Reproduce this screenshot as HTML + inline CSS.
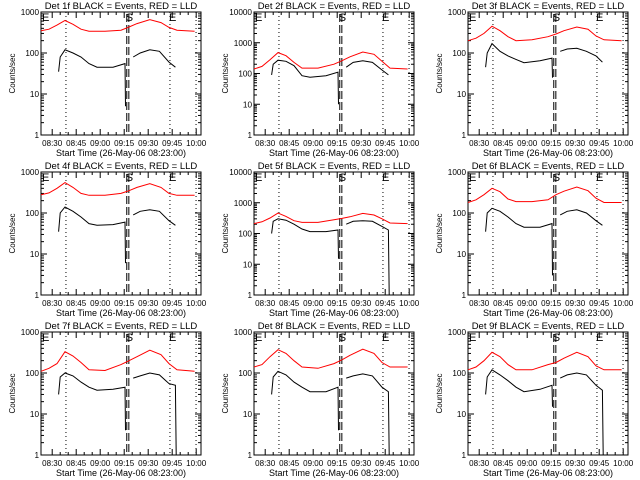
<!DOCTYPE html>
<html><head><meta charset="utf-8">
<style>
html,body{margin:0;padding:0;background:#fff;}
svg{display:block;font-family:"Liberation Sans",sans-serif;}
</style></head>
<body>
<svg id="chart" width="640" height="480" viewBox="0 0 640 480"></svg>
<script>
// ---- data ----
const detectorNames = ["1f","2f","3f","4f","5f","6f","7f","8f","9f"];
const yMaxDecades = [3,4,3,3,4,3,3,3,3];
const xTickLabels = ["08:30","08:45","09:00","09:15","09:30","09:45","10:00"];
const xTickMinutes = [7,22,37,52,67,82,97];
const markerMinutes = [15.6,80.6,96.9];
const dashedMinutes = [53.6,54.9];
const redTimes = [0,5,10,15,20,25,30,40,50,55,60,68,75,80,85,96];
const red1 = [350,380,480,620,500,380,340,340,360,430,520,650,550,420,360,340];
const red2 = [140,170,280,480,380,230,150,150,200,260,350,500,420,250,150,140];
const red3 = [200,230,300,450,350,250,200,210,250,290,350,430,380,260,210,200];
const red4 = [280,310,400,550,420,300,270,270,300,350,420,520,420,300,270,270];
const red5 = [210,240,320,460,360,260,230,230,280,310,350,450,400,300,220,210];
const red6 = [180,210,280,400,330,220,190,190,210,280,340,430,350,230,180,180];
const red7 = [110,130,170,330,260,180,120,115,160,200,250,360,280,170,120,110];
const red8 = [140,160,250,370,300,200,140,130,170,210,270,380,300,180,140,140];
const red9 = [120,140,200,320,250,160,120,120,160,180,230,320,250,150,120,120];
const blackTimes = [11,12,15,20,25,30,35,45,52.5,52.8,55,57.6,62,68,74,80,84,84.5];
const black1 = [35,80,120,100,80,55,45,45,55,5,null,80,100,120,110,60,45,null];
const black2 = [90,200,270,250,180,85,75,85,110,10,null,160,230,260,230,130,90,null];
const black3 = [45,100,170,110,85,70,58,65,75,25,null,110,125,130,110,85,60,null];
const black4 = [35,100,140,110,80,55,50,52,60,6,null,90,110,120,110,65,50,null];
const black5 = [100,250,300,270,200,140,115,115,130,15,null,200,250,260,250,170,130,1];
const black6 = [35,100,130,110,80,55,45,45,55,3,null,90,110,120,100,65,50,null];
const black7 = [30,80,100,85,60,45,38,40,45,4,null,75,85,100,90,55,50,1];
const black8 = [30,80,110,90,60,45,35,35,45,4,null,75,85,95,85,45,35,1];
const black9 = [30,80,120,90,65,45,35,40,50,15,null,75,90,100,90,50,38,1];
const redSeries = [red1,red2,red3,red4,red5,red6,red7,red8,red9];
const blackSeries = [black1,black2,black3,black4,black5,black6,black7,black8,black9];

const NS = "http://www.w3.org/2000/svg";
const svg = document.getElementById("chart");
function mk(tag, attrs, parent){
  const e = document.createElementNS(NS, tag);
  for (const k in attrs) e.setAttribute(k, attrs[k]);
  parent.appendChild(e); return e;
}
const W = 160, H = 123, MIN_SPAN = 100;

for (let p = 0; p < 9; p++) {
  const col = p % 3, row = Math.floor(p / 3);
  const L = Math.round(col * 213.33 + 41), T = row * 160 + 12;
  const dec = yMaxDecades[p];
  const xs = m => L + m / MIN_SPAN * W;
  const ys = v => { const lv = Math.log10(Math.max(v, 1)); return T + H - lv / dec * H; };
  const g = mk("g", {}, svg);
  
  

  const title = mk("text", {x: L + W/2, y: T - 3, "text-anchor": "middle", "font-size": 9.5, fill: "#000"}, g);
  title.textContent = "Det " + detectorNames[p] + " BLACK = Events, RED = LLD";
  
  

  const fr = mk("rect", {x: L, y: T, width: W, height: H, fill: "none", stroke: "#000", "stroke-width": 1}, g);
  
  

  for (let d = 0; d <= dec; d++) {
    const y = ys(Math.pow(10, d));
    mk("line", {x1: L, x2: L + 6, y1: y, y2: y, stroke: "#000"}, g);
    mk("line", {x1: L + W - 6, x2: L + W, y1: y, y2: y, stroke: "#000"}, g);
    const t = mk("text", {x: L - 2, y: y + 3, "text-anchor": "end", "font-size": 8.2, fill: "#000"}, g);
    t.textContent = String(Math.pow(10, d));
    
    
    if (d < dec) for (let k = 2; k < 10; k++) {
      const yy = ys(k * Math.pow(10, d));
      mk("line", {x1: L, x2: L + 3, y1: yy, y2: yy, stroke: "#000"}, g);
      mk("line", {x1: L + W - 3, x2: L + W, y1: yy, y2: yy, stroke: "#000"}, g);
    }
  }
  const yt = mk("text", {x: 0, y: 0, transform: "translate(" + (L - 26) + "," + (T + H/2) + ") rotate(-90)", "text-anchor": "middle", "font-size": 8, fill: "#000"}, g);
  yt.textContent = "Counts/sec";
  
  

  xTickMinutes.forEach((m, i) => {
    const x = xs(m);
    mk("line", {x1: x, x2: x, y1: T + H, y2: T + H - 6, stroke: "#000"}, g);
    mk("line", {x1: x, x2: x, y1: T, y2: T + 6, stroke: "#000"}, g);
    const t = mk("text", {x: x, y: T + H + 11, "text-anchor": "middle", "font-size": 8, fill: "#000"}, g);
    t.textContent = xTickLabels[i];
    
    
    for (let k = 1; k < 3; k++) {
      const xm = xs(m + k * 5);
      if (xm < L + W) {
        mk("line", {x1: xm, x2: xm, y1: T + H, y2: T + H - 3, stroke: "#000"}, g);
        mk("line", {x1: xm, x2: xm, y1: T, y2: T + 3, stroke: "#000"}, g);
      }
    }
  });
  const xt = mk("text", {x: L + W/2, y: T + H + 21, "text-anchor": "middle", "font-size": 9, fill: "#000"}, g);
  xt.textContent = "Start Time (26-May-06 08:23:00)";
  
  

  markerMinutes.forEach(m => {
    const l = mk("line", {x1: xs(m), x2: xs(m), y1: T, y2: T + H, stroke: "#000", "stroke-dasharray": "1,3"}, g);
    
    
  });
  dashedMinutes.forEach(m => {
    const l = mk("line", {x1: xs(m), x2: xs(m), y1: T + 2, y2: T + H, stroke: "#000", "stroke-dasharray": "8,3"}, g);
    
    
  });
  [["E", L + 1], ["S", xs(dashedMinutes[0]) - 1], ["E", xs(markerMinutes[1]) - 1]].forEach(a => {
    const t = mk("text", {x: a[1], y: T + 9, "font-size": 11, fill: "#000"}, g);
    t.textContent = a[0];
    
    
  });

  const rv = redSeries[p];
  const rp = mk("polyline", {fill: "none", stroke: "#ff0000", "stroke-width": 1,
    points: redTimes.map((m, i) => xs(m).toFixed(1) + "," + ys(rv[i]).toFixed(1)).join(" ")}, g);
  
  

  const bv = blackSeries[p];
  let seg = [];
  const flush = () => {
    if (seg.length > 1) {
      const bp = mk("polyline", {fill: "none", stroke: "#000", "stroke-width": 1, points: seg.join(" ")}, g);
      
      
    }
    seg = [];
  };
  blackTimes.forEach((m, i) => {
    if (bv[i] === null) { flush(); return; }
    seg.push(xs(m).toFixed(1) + "," + ys(bv[i]).toFixed(1));
  });
  flush();
}
</script>
</body></html>
